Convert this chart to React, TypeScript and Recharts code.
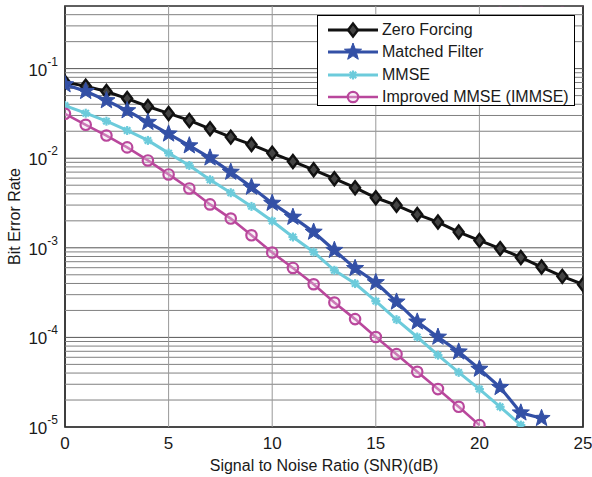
import React from 'react';
import {
  LineChart,
  Line,
  XAxis,
  YAxis,
  ReferenceLine,
  ReferenceArea,
  Legend
} from 'recharts';

// SNR (dB) on the x axis
const snr = [0, 1, 2, 3, 4, 5, 6, 7, 8, 9, 10, 11, 12, 13, 14, 15, 16, 17, 18, 19, 20, 21, 22, 23, 24, 25];

// BER readings for each detector
const zeroForcing = [
  0.0704, 0.0638, 0.0555, 0.0463, 0.0378, 0.0316, 0.0264, 0.0213, 0.0172, 0.0142,
  0.0114, 0.0092, 0.00743, 0.0059, 0.00469, 0.00362, 0.00298, 0.00236, 0.00194, 0.0015,
  0.00121, 0.00098, 0.00078, 0.00061, 0.00048, 0.00039
];
const matchedFilter = [
  0.0664, 0.0558, 0.044, 0.034, 0.0252, 0.0187, 0.0138, 0.0101, 0.007, 0.00476,
  0.00315, 0.0022, 0.0015, 0.00094, 0.00059, 0.00041, 0.000249, 0.000149, 0.000101, 0.000069,
  0.0000443, 0.0000277, 0.0000144, 0.0000125
];
const mmse = [
  0.0387, 0.0318, 0.0259, 0.0204, 0.0158, 0.0114, 0.0083, 0.00575, 0.00412, 0.0029,
  0.00199, 0.00132, 0.000897, 0.000561, 0.000399, 0.000254, 0.000158, 0.000101, 0.0000634, 0.0000407,
  0.0000265, 0.0000168, 0.0000105
];
const immse = [
  0.0313, 0.0236, 0.0179, 0.0132, 0.00944, 0.00659, 0.0046, 0.00305, 0.00212, 0.00138,
  0.000885, 0.000596, 0.000392, 0.000245, 0.00016, 0.000101, 0.000065, 0.0000413, 0.0000265, 0.0000168,
  0.0000105
];

const xTicks = [0, 5, 10, 15, 20, 25];
const decades = [1e-5, 1e-4, 1e-3, 1e-2, 1e-1];
const minorSteps = [2, 3, 4, 5, 6, 7, 8, 9];
const yTop = 0.5;

const rows = snr.map((s, i) => ({
  snr: s,
  zf: zeroForcing[i],
  mf: matchedFilter[i],
  mmse: mmse[i],
  immse: immse[i]
}));

const minorGrid = decades
  .flatMap(d => minorSteps.map(m => m * d))
  .filter(v => v <= yTop);

const FONT = '"Liberation Sans", Arial, Helvetica, sans-serif';
const TEXT = '#1a1a1a';
const GRID = '#808080';

const BLACK = '#111111';
const BLUE = '#3350a6';
const CYAN = '#6ccbdb';
const MAGENTA = '#b9479c';

// marker shapes
const diamond = (cx: number, cy: number, key?: any) => (
  <polygon
    key={key}
    points={`${cx},${cy - 6.5} ${cx + 5},${cy} ${cx},${cy + 6.5} ${cx - 5},${cy}`}
    fill="#444"
    stroke={BLACK}
    strokeWidth={2.4}
  />
);

const star = (cx: number, cy: number, key?: any, r = 9) => {
  const pts: string[] = [];
  for (let k = 0; k < 10; k++) {
    const rad = k % 2 === 0 ? r : r * 0.42;
    const a = -Math.PI / 2 + (k * Math.PI) / 5;
    pts.push(`${cx + rad * Math.cos(a)},${cy + rad * Math.sin(a)}`);
  }
  return <polygon key={key} points={pts.join(' ')} fill={BLUE} stroke={BLUE} strokeWidth={1} />;
};

const asterisk = (cx: number, cy: number, key?: any) => (
  <g key={key} stroke={CYAN} strokeWidth={2.2}>
    <line x1={cx - 4.5} y1={cy} x2={cx + 4.5} y2={cy} />
    <line x1={cx} y1={cy - 4.5} x2={cx} y2={cy + 4.5} />
    <line x1={cx - 3.2} y1={cy - 3.2} x2={cx + 3.2} y2={cy + 3.2} />
    <line x1={cx - 3.2} y1={cy + 3.2} x2={cx + 3.2} y2={cy - 3.2} />
  </g>
);

const ring = (cx: number, cy: number, key?: any) => (
  <circle key={key} cx={cx} cy={cy} r={5.2} fill="#f2d6ea" fillOpacity={0.35} stroke={MAGENTA} strokeWidth={2.2} />
);

const series = [
  { key: 'zf', name: 'Zero Forcing', color: BLACK, width: 3, marker: diamond },
  { key: 'mf', name: 'Matched Filter', color: BLUE, width: 3.2, marker: star },
  { key: 'mmse', name: 'MMSE', color: CYAN, width: 3, marker: asterisk },
  { key: 'immse', name: 'Improved MMSE (IMMSE)', color: MAGENTA, width: 2.6, marker: ring }
];

const PowerTick = ({ x, y, payload }: any) => {
  const exp = Math.round(Math.log10(payload.value));
  return (
    <text x={x - 5} y={y + 7} textAnchor="end" fontSize={17} fill={TEXT} fontFamily={FONT}>
      10
      <tspan dy={-10} fontSize={12}>{exp}</tspan>
    </text>
  );
};

const SnrTick = ({ x, payload }: any) => (
  <text x={x} y={449} textAnchor="middle" fontSize={17} fill={TEXT} fontFamily={FONT}>
    {payload.value}
  </text>
);

const XTitle = ({ viewBox }: any) => (
  <text
    x={viewBox.x + viewBox.width / 2}
    y={471}
    textAnchor="middle"
    fontSize={16}
    fill={TEXT}
    fontFamily={FONT}
  >
    Signal to Noise Ratio (SNR)(dB)
  </text>
);

const YTitle = ({ viewBox }: any) => {
  const cx = 20;
  const cy = viewBox.y + viewBox.height / 2;
  return (
    <text
      x={cx}
      y={cy}
      transform={`rotate(-90 ${cx} ${cy})`}
      textAnchor="middle"
      fontSize={16}
      fill={TEXT}
      fontFamily={FONT}
    >
      Bit Error Rate
    </text>
  );
};

const LegendBox = () => (
  <div
    style={{
      width: 258,
      height: 91,
      border: '1px solid #000',
      background: '#fff',
      boxSizing: 'border-box',
      paddingTop: 3,
      fontFamily: FONT,
      fontSize: 16,
      color: TEXT
    }}
  >
    {series.map(s => (
      <div key={s.key} style={{ display: 'flex', alignItems: 'center', height: 22.3 }}>
        <svg width={64} height={20} style={{ flex: 'none' }}>
          <line x1={10} y1={10} x2={60} y2={10} stroke={s.color} strokeWidth={s.width} />
          {s.marker(35, 10, undefined)}
        </svg>
        <span style={{ whiteSpace: 'nowrap' }}>{s.name}</span>
      </div>
    ))}
  </div>
);

export default function App() {
  return (
    <div style={{ width: 592, height: 477, background: '#fff' }}>
      <style>{'body{margin:0}'}</style>
      <LineChart width={592} height={477} data={rows} margin={{ top: 6, right: 9, left: 0, bottom: 0 }}>
        <XAxis
          dataKey="snr"
          type="number"
          domain={[0, 25]}
          ticks={xTicks}
          height={50}
          axisLine={false}
          tickLine={false}
          tickSize={0}
          tick={<SnrTick />}
          label={<XTitle />}
          allowDataOverflow
        />
        <YAxis
          type="number"
          scale="log"
          domain={[1e-5, yTop]}
          ticks={decades}
          width={65}
          axisLine={false}
          tickLine={false}
          tickSize={0}
          tick={<PowerTick />}
          label={<YTitle />}
          allowDataOverflow
        />
        {minorGrid.map(v => (
          <ReferenceLine key={`m${v}`} y={v} stroke={GRID} strokeWidth={1} />
        ))}
        {decades.map(v => (
          <ReferenceLine key={`d${v}`} y={v} stroke="#555" strokeWidth={1} />
        ))}
        {xTicks.slice(1, -1).map(v => (
          <ReferenceLine key={`x${v}`} x={v} stroke="#999" strokeWidth={1} />
        ))}
        {series.map(s => (
          <Line
            key={s.key}
            dataKey={s.key}
            name={s.name}
            stroke={s.color}
            strokeWidth={s.width}
            isAnimationActive={false}
            dot={(p: any) => s.marker(p.cx, p.cy, `${s.key}-${p.index}`)}
            activeDot={false}
          />
        ))}
        <ReferenceArea
          x1={0}
          x2={25}
          y1={1e-5}
          y2={yTop}
          fill="none"
          fillOpacity={0}
          stroke="#000"
          strokeWidth={1.5}
          ifOverflow="visible"
        />
        <Legend
          layout="horizontal"
          verticalAlign="middle"
          align="center"
          content={<LegendBox />}
          wrapperStyle={{ top: 15, left: 317, width: 258, height: 91 }}
        />
      </LineChart>
    </div>
  );
}
